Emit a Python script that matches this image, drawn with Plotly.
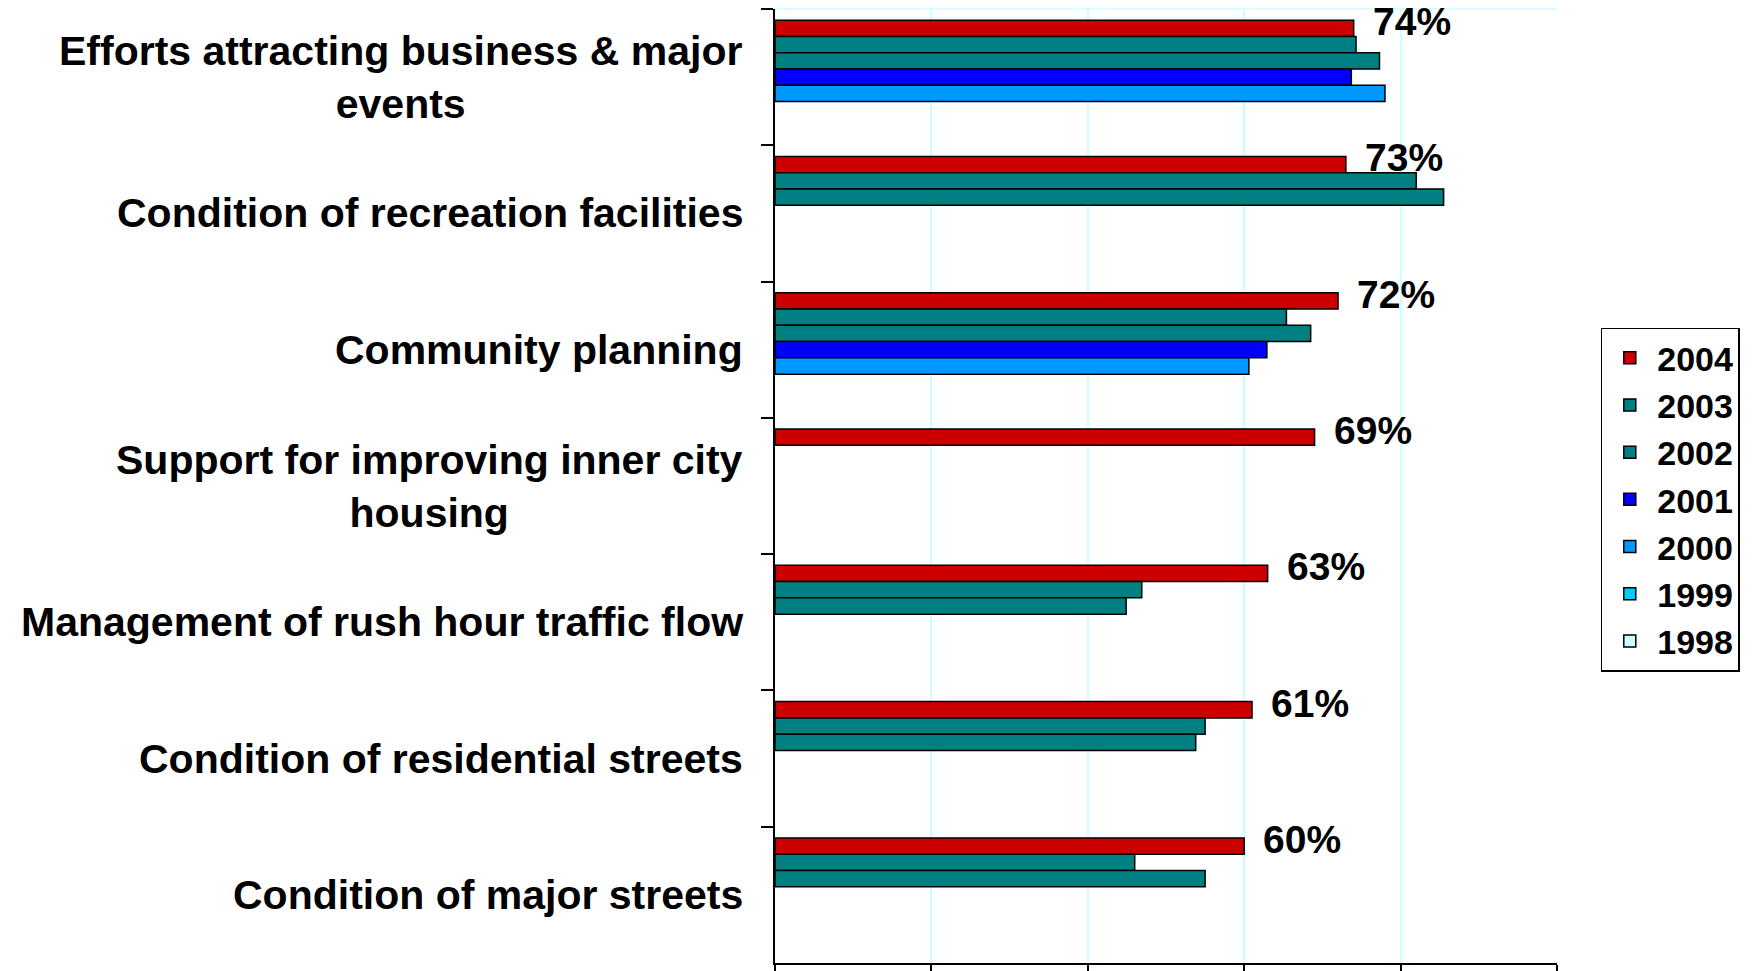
import plotly.graph_objects as go

categories = [
    "Efforts attracting business & major<br>events",
    "Condition of recreation facilities",
    "Community planning",
    "Support for improving inner city<br>housing",
    "Management of rush hour traffic flow",
    "Condition of residential streets",
    "Condition of major streets",
]

years = ["2004", "2003", "2002", "2001", "2000", "1999", "1998"]

v2004 = [74, 73, 72, 69, 63, 61, 60]
v2003 = [74.3, 82, 65.4, None, 46.9, 55.0, 46.0]
v2002 = [77.3, 85.5, 68.5, None, 44.9, 53.8, 55.0]
v2001 = [73.7, None, 62.9, None, None, None, None]
v2000 = [78.0, None, 60.6, None, None, None, None]
v1999 = [None, None, None, None, None, None, None]
v1998 = [None, None, None, None, None, None, None]

series = [v2004, v2003, v2002, v2001, v2000, v1999, v1998]
colors = ["#CC0000", "#008080", "#008080", "#0000FF", "#0099FF", "#00CCFF", "#CCFFFF"]

FONT = "Liberation Sans, Arial, sans-serif"

fig = go.Figure()
for name, vals, col in zip(years, series, colors):
    fig.add_trace(go.Bar(
        y=categories, x=vals, name=name, orientation="h",
        marker=dict(color=col, line=dict(color="black", width=1.5)),
    ))

annotations = []
for cat, v in zip(categories, v2004):
    annotations.append(dict(
        x=v, y=cat, xref="x", yref="y", text=f"{v}%", showarrow=False,
        xanchor="left", yanchor="middle", xshift=17, yshift=56, height=36,
        font=dict(family=FONT, size=39, color="black", weight="bold"),
    ))
for cat in categories:
    annotations.append(dict(
        x=0, y=cat, xref="paper", yref="y", text=cat, showarrow=False,
        xanchor="right", yanchor="middle", xshift=-30, align="center",
        font=dict(family=FONT, size=41, color="black", weight="bold"),
    ))

fig.update_layout(
    width=1762, height=971, autosize=False,
    margin=dict(l=775, r=205, t=9, b=8, autoexpand=False),
    paper_bgcolor="white", plot_bgcolor="white",
    barmode="group", bargap=0.164, bargroupgap=0,
    showlegend=True,
    legend=dict(
        x=1.056, xanchor="left", y=0.666, yanchor="top",
        traceorder="normal", bgcolor="white",
        bordercolor="black", borderwidth=1.5, itemwidth=45,
        font=dict(family=FONT, size=34, color="black", weight="bold"),
    ),
    xaxis=dict(
        range=[0, 100], dtick=20, showticklabels=False,
        ticks="outside", ticklen=8, tickcolor="black", tickwidth=1.5,
        showgrid=True, gridcolor="#CCFFFF", gridwidth=1.5,
        showline=True, linecolor="black", linewidth=2, zeroline=False,
    ),
    yaxis=dict(
        categoryorder="array", categoryarray=categories,
        range=[len(categories) - 0.5, -0.5],
        showticklabels=False, ticks="outside", ticklen=12, tickson="boundaries",
        tickcolor="black", tickwidth=1.5,
        showgrid=False, showline=True, linecolor="black", linewidth=1.5,
        zeroline=False,
    ),
    annotations=annotations,
    shapes=[dict(type="line", xref="paper", yref="paper", x0=0, x1=1, y0=1, y1=1,
                 line=dict(color="#CCFFFF", width=1.5), layer="below")],
)

fig.write_html(
    "out.html",
    config={"displayModeBar": False, "responsive": False},
    post_script="document.body.style.margin='0';",
)
